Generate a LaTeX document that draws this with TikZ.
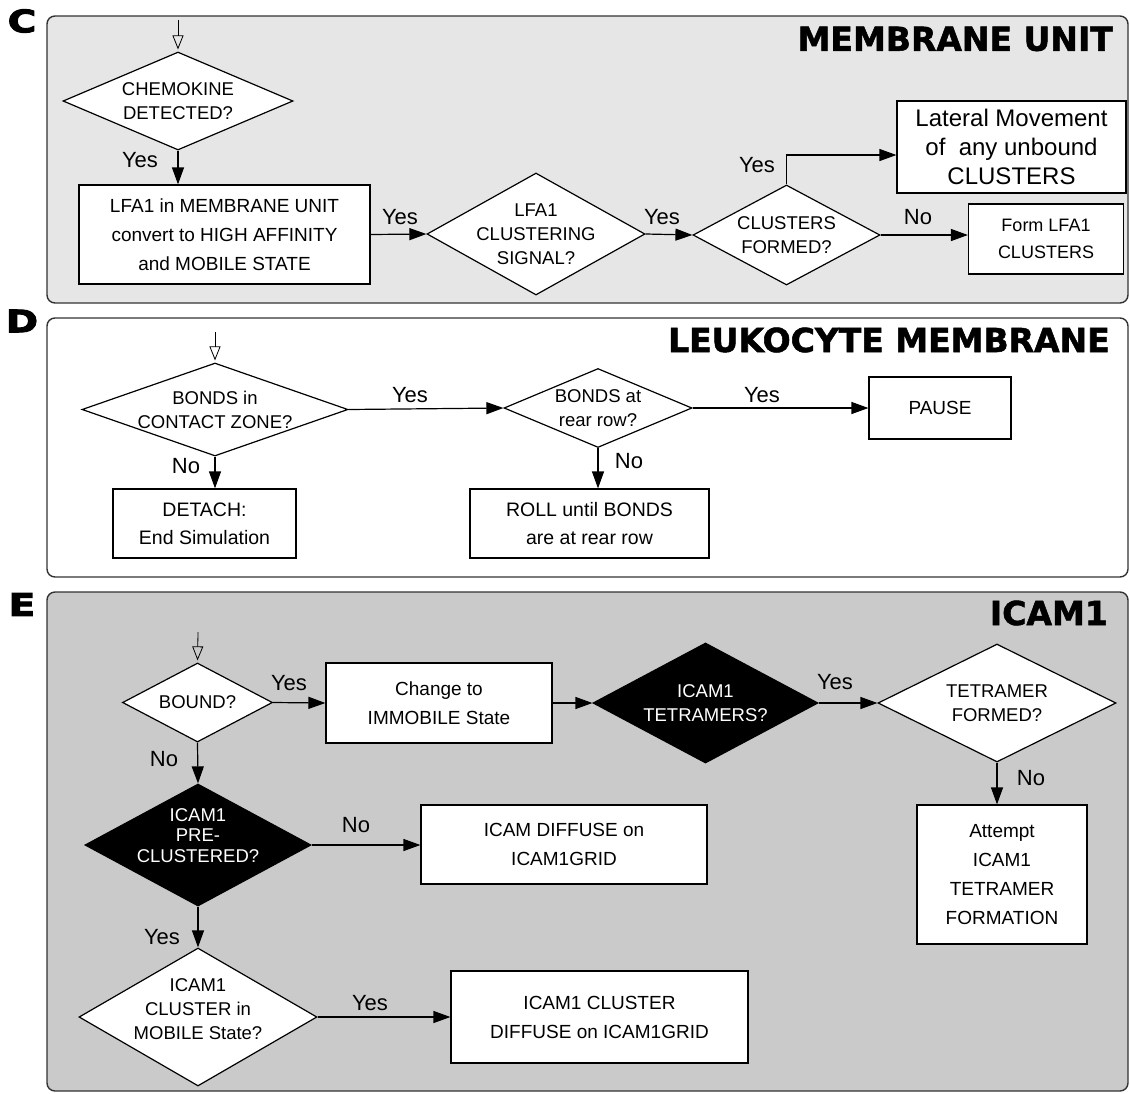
\documentclass[tikz,border=0pt]{standalone}
\usepackage{fontspec}
\setmainfont{Liberation Sans}
\newfontfamily\heavyfont{DejaVu Sans Bold}[FakeBold=1.6]
\newfontfamily\letterfont{DejaVu Sans Bold}[FakeBold=3]
\usetikzlibrary{shapes.geometric,arrows.meta}
\definecolor{paneC}{HTML}{E6E6E6}
\definecolor{paneE}{HTML}{CACACA}
\definecolor{rim}{HTML}{333333}
\begin{document}
\begin{tikzpicture}[x=1pt,y=-1pt,
  panel/.style={draw=rim, line width=1.4pt, rounded corners=8pt},
  letter/.style={font=\letterfont\fontsize{31}{31}\selectfont, inner sep=0pt},
  title/.style={anchor=east, inner sep=0pt, font=\heavyfont\fontsize{33}{33}\selectfont},
  procbox/.style={draw, fill=white, line width=1.2pt, align=center, inner sep=0pt, font=\fontsize{19}{29}\selectfont},
  decision/.style={diamond, draw, fill=white, line width=1.2pt, inner sep=0pt},
  blackdec/.style={decision, fill=black},
  dtext/.style={align=center, inner sep=0pt, font=\fontsize{18.5}{24}\selectfont},
  wtext/.style={dtext, text=white},
  lbl/.style={font=\fontsize{22}{22}\selectfont, inner sep=0pt},
  flow/.style={-{Triangle[length=17pt,width=12pt]}, line width=1.2pt},
  startflow/.style={-{Triangle[open,length=14pt,width=11pt]}, line width=0.8pt, shorten >=2pt}]
\useasboundingbox (0,0) rectangle (1130,1093);

\draw [panel, fill=paneC] (47,16) rectangle (1128,303);
\node [letter] (lc) at (22,21) {\scalebox{1.25}[1]{C}};
\node [title] (tc) at (1113,39) {MEMBRANE UNIT};
\coordinate (cin) at (178,20);
\node [decision, minimum width=230, minimum height=98, label={[dtext]center:CHEMOKINE\\DETECTED?}] (chemo) at (178,101) {};
\node [procbox, minimum width=291, minimum height=99] (high) at (224.5,234.5) {LFA1 in MEMBRANE UNIT\\convert to HIGH AFFINITY\\and MOBILE STATE};
\node [decision, minimum width=218, minimum height=122, label={[dtext]center:LFA1\\CLUSTERING\\SIGNAL?}] (signal) at (536,234) {};
\node [decision, minimum width=187, minimum height=100, label={[dtext]center:CLUSTERS\\FORMED?}] (formed) at (786.5,235) {};
\node [procbox, minimum width=229, minimum height=92, font=\fontsize{24}{29}\selectfont] (lateral) at (1011.5,147) {Lateral Movement\\of\ \ any unbound\\CLUSTERS};
\node [procbox, minimum width=155, minimum height=70, font=\fontsize{18}{27}\selectfont] (formlfa) at (1046,239) {Form LFA1\\CLUSTERS};
\draw [startflow] (cin) -- (chemo.north);
\draw [flow] (chemo.south) -- (chemo.south |- high.north);
\draw [flow] (high.east) -- (signal.west);
\draw [flow] (signal.east) -- (formed.west);
\draw [flow] (formed.east) -- (formed.east -| formlfa.west);
\draw [flow] (formed.north) |- ([yshift=-8pt]lateral.west);
\node [lbl] (cyes1) at (140,160) {Yes};
\node [lbl] (cyes2) at (400,217) {Yes};
\node [lbl] (cyes3) at (662,217) {Yes};
\node [lbl] (cno1) at (918,217) {No};
\node [lbl] (cyes4) at (757,165) {Yes};

\draw [panel, fill=white] (47,318) rectangle (1128,577);
\node [letter] (ld) at (22,321) {\scalebox{1.25}[1]{D}};
\node [title] (td) at (1110,340) {LEUKOCYTE MEMBRANE};
\coordinate (din) at (215,332);
\node [decision, minimum width=266, minimum height=93, label={[dtext]center:BONDS in\\CONTACT\ ZONE?}] (contact) at (215,409.5) {};
\node [decision, minimum width=188, minimum height=79, label={[dtext]center:BONDS at\\rear row?}] (rear) at (598,408) {};
\node [procbox, minimum width=142, minimum height=62] (pause) at (940,408) {PAUSE};
\node [procbox, minimum width=183, minimum height=69, font=\fontsize{19.5}{28}\selectfont] (detach) at (204.5,523.5) {DETACH:\\End Simulation};
\node [procbox, minimum width=239, minimum height=69, font=\fontsize{19.5}{28}\selectfont] (roll) at (589.5,523.5) {ROLL until BONDS\\are at rear row};
\draw [startflow] (din) -- (contact.north);
\draw [flow] (contact.east) -- (rear.west);
\draw [flow] (rear.east) -- (rear.east -| pause.west);
\draw [flow] (contact.south) -- (contact.south |- detach.north);
\draw [flow] (rear.south) -- (rear.south |- roll.north);
\node [lbl] (dyes1) at (410,395.5) {Yes};
\node [lbl] (dyes2) at (762,395.5) {Yes};
\node [lbl] (dno1) at (186,466.5) {No};
\node [lbl] (dno2) at (629,461.5) {No};

\draw [panel, fill=paneE] (47,592) rectangle (1128,1091);
\node [letter] (le) at (22,604.5) {\scalebox{1.25}[1]{E}};
\node [title] (te) at (1108,613) {ICAM1};
\coordinate (ein) at (198,632);
\node [decision, minimum width=150, minimum height=79, label={[dtext]center:BOUND?}] (bound) at (197.5,702.5) {};
\node [procbox, minimum width=226, minimum height=80] (immob) at (439,703) {Change to\\IMMOBILE State};
\node [blackdec, minimum width=225, minimum height=120, label={[wtext]center:ICAM1\\TETRAMERS?}] (tetra) at (705.5,703) {};
\node [decision, minimum width=238, minimum height=118, label={[dtext]center:TETRAMER\\FORMED?}] (tformed) at (997,703) {};
\node [procbox, minimum width=170, minimum height=139] (attempt) at (1002,874.5) {Attempt\\ICAM1\\TETRAMER\\FORMATION};
\node [blackdec, minimum width=226, minimum height=122, label={[wtext, yshift=9.5pt, font=\fontsize{18.5}{20.5}\selectfont]center:ICAM1\\PRE-\\CLUSTERED?}] (precl) at (198,845) {};
\node [procbox, minimum width=286, minimum height=79] (diffuse) at (564,844.5) {ICAM DIFFUSE on\\ICAM1GRID};
\node [decision, minimum width=238, minimum height=138, label={[dtext, yshift=7.5pt]center:ICAM1\\CLUSTER in\\MOBILE State?}] (mobile) at (198,1017) {};
\node [procbox, minimum width=297, minimum height=92] (cdiffuse) at (599.5,1017) {ICAM1 CLUSTER\\DIFFUSE on ICAM1GRID};
\draw [startflow] (ein) -- (bound.north);
\draw [flow] (bound.east) -- (immob.west);
\draw [flow] (immob.east) -- (tetra.west);
\draw [flow] (tetra.east) -- (tformed.west);
\draw [flow] (tformed.south) -- (tformed.south |- attempt.north);
\draw [flow] (bound.south) -- (precl.north);
\draw [flow] (precl.east) -- (precl.east -| diffuse.west);
\draw [flow] (precl.south) -- (mobile.north);
\draw [flow] (mobile.east) -- (cdiffuse.west);
\node [lbl] (eyes1) at (289,683.5) {Yes};
\node [lbl] (eno1) at (164,759.5) {No};
\node [lbl] (eno2) at (356,825) {No};
\node [lbl] (eyes2) at (835,682.5) {Yes};
\node [lbl] (eno3) at (1031,778) {No};
\node [lbl] (eyes3) at (162,937) {Yes};
\node [lbl] (eyes4) at (370,1003.5) {Yes};
\end{tikzpicture}
\end{document}
